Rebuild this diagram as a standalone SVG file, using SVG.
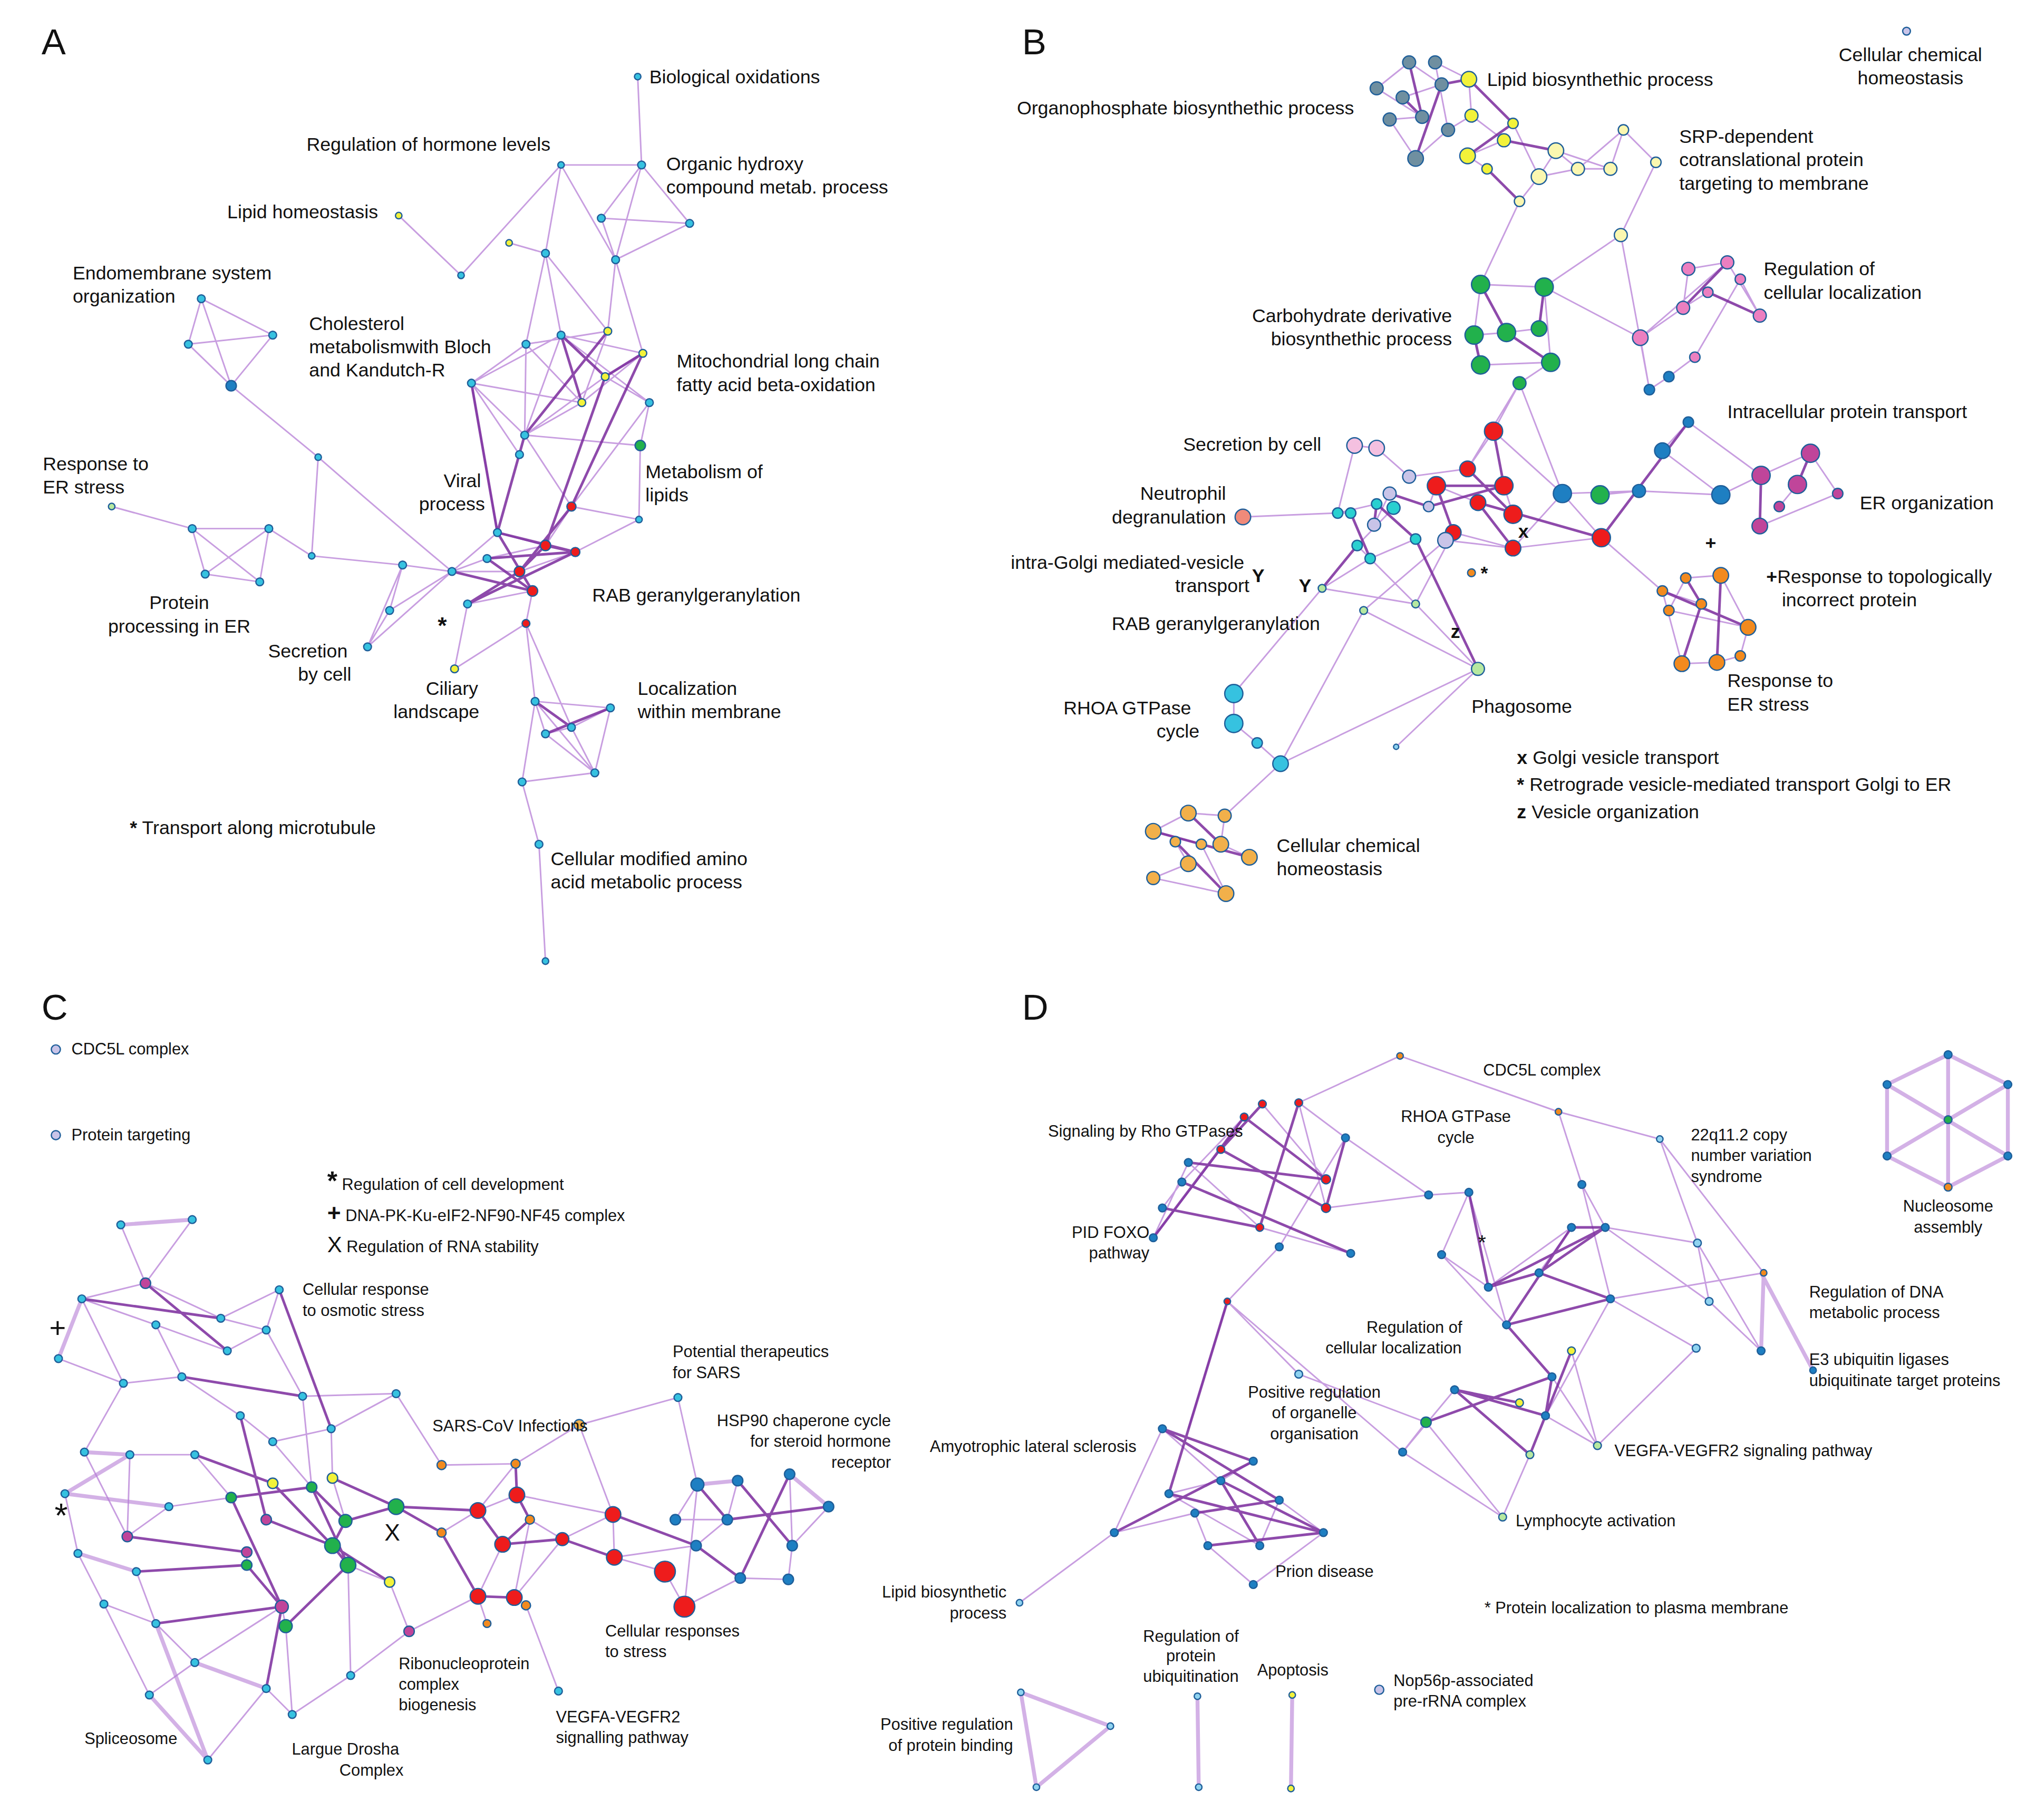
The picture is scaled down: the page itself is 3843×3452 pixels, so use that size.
<svg xmlns="http://www.w3.org/2000/svg" width="3843" height="3452" viewBox="0 0 3843 3452">
<style>
text{font-family:"Liberation Sans",Arial,sans-serif;fill:#111}
.l{font-size:14.5px}.s{font-size:12.5px}.p{font-size:28px}.m{text-anchor:middle}.r{text-anchor:end}.b{font-weight:bold}
.e{stroke:#b57ed6;stroke-width:1.2;fill:none;opacity:.75}
.d{stroke:#7a2a9c;stroke-width:2;fill:none;opacity:.85}
.t{stroke:#c89ee0;stroke-width:3;fill:none;opacity:.8}
circle{stroke:#1f5f9a;stroke-width:1}
.cy{fill:#36c2e0}.ye{fill:#f2f23a}.gr{fill:#22b14c}.rd{fill:#ee1c1c}.bl{fill:#1e7fc2}.gy{fill:#6f8fa0}.py{fill:#fbf7b0}.pk{fill:#ec7fc0}.mg{fill:#c0459a}.lv{fill:#c9c4e8}.tq{fill:#2ad0d0}.or{fill:#f28a1e}.lo{fill:#f2b04a}.sa{fill:#f08a7a}.pg{fill:#b6e8a0}.lb{fill:#8fd3f0}.pp{fill:#f4c0e0}
</style>
<rect width="3843" height="3452" fill="#fff"/>
<g transform="scale(2.4635)">
<g id="connectors">
<path class="e" d="M491 59L494 127M494 127L432 127M432 127L420 195M494 127L463 168M494 127L531 172M463 168L531 172M463 168L474 200M531 172L474 200M494 127L474 200M307 166L355 212M355 212L432 127M392 187L420 195M420 195L405 265M474 200L468 255M155 230L145 265M145 265L178 297M155 230L210 258M210 258L178 297M145 265L210 258M155 230L178 297M178 297L245 352M245 352L240 428M86 390L148 407M148 407L207 407M148 407L158 442M207 407L200 448M158 442L200 448M148 407L200 448M207 407L158 442M207 407L240 428M240 428L310 435M310 435L348 440M300 470L283 498M310 435L300 470M283 498L348 440M348 440L400 440M405 265L363 295M363 295L404 335M404 335L448 310M448 310L468 255M432 258L495 272M495 272L466 290M466 290L500 310M500 310L493 343M493 343L492 400M404 335L440 390M440 390L420 420M383 410L420 420M400 440L443 425M410 455L405 480M405 480L412 540M412 540L470 545M470 545L440 560M440 560L420 565M412 540L458 595M458 595L402 602M402 602L415 650M415 650L420 740M405 480L350 515M375 430L420 420M360 465L410 455M245 352Q300 400 348 440M363 295L432 258M405 265L468 255M405 265L448 310M363 295L448 310M432 258L500 310M420 195L432 258M412 540L402 602M458 595L440 560M300 470L348 440M283 498L310 435M432 127L474 200M463 168L494 127M363 295L400 350M383 410L363 295M404 335L493 343M443 425L492 400M440 390L492 400M348 440L383 410M375 430L348 440M420 565L458 595M412 540L420 565M470 545L458 595M405 480L440 560M360 465L350 515M466 290L404 335M500 310L440 390M495 272L448 310M405 265L404 335M432 258L404 335M474 200L495 272M420 195L468 255"/>
<path class="d" d="M432 258L448 310M468 255L404 335M495 272L440 390M420 420L400 440M383 410L410 455M443 425L375 430M360 465L443 425M363 295L383 410M412 540L440 560M470 545L420 565M404 335L383 410M466 290L420 420M432 258L466 290M348 440L410 455M375 430L410 455M400 440L360 465M420 420L443 425M383 410L443 425M440 390L400 440M466 290L495 272"/>
<path class="e" d="M1085 48L1110 65M1110 65L1080 75M1060 68L1095 90M1070 92L1090 122M1115 100L1105 48M1131 61L1133 89M1133 89L1158 108M1145 130L1130 120M1165 95L1185 136M1185 136L1198 116M1198 116L1215 130M1215 130L1240 130M1240 130L1250 100M1250 100L1275 125M1275 125L1248 181M1170 155L1185 136M1248 181L1189 221M1170 155L1140 219M1140 219L1189 221M1135 258L1160 256M1160 256L1185 253M1140 281L1194 279M1194 279L1170 295M1170 295L1150 332M1150 332L1130 361M1106 374L1138 387M1158 374L1165 396M1119 410L1165 422M1233 414L1203 380M1203 380L1262 378M1262 378L1325 381M1325 381L1356 366M1356 366L1394 349M1394 349L1415 380M1415 380L1355 405M1384 373L1370 390M1300 325L1280 347M1270 300L1285 290M1263 260L1296 237M1296 237L1315 225M1300 207L1330 202M1330 202L1355 243M1340 215L1305 275M1263 260L1270 300M1043 343L1060 345M1060 345L1085 367M1070 380L1058 404M1040 395L1030 395M1030 395L1060 388M1073 391L1045 420M1090 415L1055 430M1018 453L1090 465M1050 470L1138 515M957 398L1030 395M1325 443L1298 445M1280 455L1310 465M1285 470L1346 483M1295 511L1322 510M1322 510L1340 505M1233 414L1280 455M950 534L950 557M950 557L968 572M968 572L986 588M986 588L943 628M888 640L915 626M915 626L943 628M943 628L940 650M940 650L962 660M915 665L888 676M888 676L944 688M944 688L925 650M905 648L915 665M925 650L888 640M1138 515L1075 575M1248 181L1270 300M1165 422L1233 414M1232 381L1262 378M1018 453L950 534M1050 470L986 588M1090 465L1138 515M1113 416L1165 422M1100 390L1106 374M1189 221L1263 260M1170 295L1203 380M1300 325L1356 366M1060 68L1085 48M1070 92L1095 90M1090 122L1115 100M1105 48L1131 61M1115 100L1133 89M1130 120L1158 108M1198 116L1240 130M1185 136L1215 130M1250 100L1215 130M1140 219L1135 258M1189 221L1194 279M1150 332L1203 380M1170 295L1130 361M1165 422L1203 380M1119 410L1090 465M1113 416L1050 470M1045 420L1090 465M1043 343L1030 395M1085 367L1130 361M1300 207L1296 237M1340 215L1355 243M1330 202L1263 260M1280 347L1325 381M1285 290L1305 275M1298 445L1285 470M1280 455L1295 511M1346 483L1340 505M1325 443L1346 483M950 534L1018 453M986 588L1138 515M1055 430L1018 453"/>
<path class="d" d="M1080 75L1095 90M1110 65L1131 61M1131 61L1165 95M1158 108L1198 116M1145 130L1170 155M1140 219L1160 256M1189 221L1185 253M1135 258L1140 281M1160 256L1194 279M1150 332L1158 374M1130 361L1165 396M1119 410L1106 374M1070 380L1100 390M1060 388L1090 415M1045 420L1018 453M1298 445L1310 465M1310 465L1295 511M1325 443L1322 510M1280 455L1346 483M1394 349L1384 373M1356 366L1355 405M1330 202L1296 237M1315 225L1355 243M915 626L940 650M888 640L962 660M944 688L905 648M1233 414L1300 325M1138 387L1233 414M1138 515L1090 415M1040 395L1055 430M1085 48L1095 90M1110 65L1090 122M1130 120L1165 95M1106 374L1158 374M1138 387L1165 422M1060 388L1058 404M1100 390L1158 374"/>
<path class="t" d="M93 943L148 939M45 1046L63 1000M65 1118L100 1120M60 1196L105 1210M115 1305L160 1355M150 1280L205 1300M50 1150L130 1160M608 1135L638 1160M537 1143L568 1140M120 1250L160 1355M50 1150L100 1120"/>
<path class="e" d="M93 943L112 988M148 939L112 988M112 988L63 1000M112 988L170 1015M170 1015L215 993M215 993L205 1024M205 1024L233 1075M120 1020L140 1060M95 1065L140 1060M140 1060L185 1090M185 1090L210 1110M210 1110L255 1100M255 1100L305 1073M305 1073L340 1128M340 1128L397 1127M397 1127L446 1097M446 1097L522 1076M522 1076L537 1143M150 1120L178 1153M98 1183L130 1160M80 1235L120 1250M120 1250L150 1280M205 1300L225 1320M225 1320L270 1290M270 1290L315 1256M315 1256L300 1218M300 1218L268 1205M368 1163L398 1151M387 1189L368 1229M396 1230L433 1185M433 1185L472 1166M472 1166L473 1199M473 1199L512 1210M512 1210L527 1237M527 1237L570 1215M570 1215L607 1216M607 1216L610 1190M610 1190L638 1160M536 1190L560 1170M560 1170L520 1170M405 1236L430 1302M340 1180L368 1163M408 1170L433 1185M375 1250L368 1229M45 1046L95 1065M65 1118L98 1183M60 1196L80 1235M160 1355L205 1300M115 1305L150 1280M233 1075L240 1145M175 1040L205 1024M256 1138L266 1171M220 1252L217 1237M190 1195L190 1205M63 1000L120 1020M100 1120L150 1120M50 1150L60 1196M63 1000L95 1065M120 1020L175 1040M170 1015L205 1024M65 1118L95 1065M210 1110L240 1145M255 1100L256 1138M233 1075L305 1073M100 1120L98 1183M130 1160L178 1153M105 1210L120 1250M80 1235L115 1305M150 1280L217 1237M220 1252L225 1320M270 1290L268 1205M315 1256L368 1229M397 1127L368 1163M446 1097L472 1166M520 1170L537 1143M568 1140L560 1170M608 1135L610 1190M537 1143L527 1237M473 1199L536 1190M398 1151L472 1166M408 1170L396 1230"/>
<path class="d" d="M63 1000L170 1015M112 988L175 1040M140 1060L233 1075M215 993L255 1100M150 1120L210 1142M178 1153L240 1145M240 1145L266 1171M266 1171L305 1160M305 1160L368 1163M256 1190L268 1205M268 1205L220 1252M190 1205L217 1237M205 1170L256 1190M98 1183L190 1195M105 1210L190 1205M120 1250L217 1237M217 1237L205 1300M256 1138L305 1160M340 1180L305 1160M368 1163L387 1189M398 1151L408 1170M408 1170L387 1189M397 1127L398 1151M368 1229L396 1230M433 1185L473 1199M472 1166L536 1190M537 1143L560 1170M568 1140L610 1190M608 1135L570 1215M536 1190L570 1215M340 1180L368 1229M185 1090L205 1170M256 1190L300 1218M210 1142L256 1190M178 1153L217 1237M240 1145L268 1205M266 1171L256 1190M387 1189L433 1185M560 1170L638 1160"/>
<path class="t" d="M1453 835L1546 890M1453 890L1546 835M1500 812L1500 914M1453 835L1453 890M1546 835L1546 890M1500 812L1453 835M1500 812L1546 835M1453 890L1500 914M1546 890L1500 914M786 1303L855 1329M855 1329L798 1376M786 1303L798 1376M922 1306L923 1376M995 1305L994 1377M1356 980L1396 1055M1358 980L1356 1040"/>
<path class="e" d="M1078 813L1200 856M1200 856L1278 877M1078 813L1000 849M1278 877L1307 957M1278 877L1358 980M1200 856L1218 912M1036 876L1100 920M1100 920L1131 918M1131 918L1110 966M1110 966L1146 991M1218 912L1236 945M1236 945L1307 957M1307 957L1316 1002M1316 1002L1356 1040M1240 1000L1306 1038M1230 1113L1210 1040M1157 1168L1080 1118M1080 1118L1098 1095M1000 1058L945 1002M945 1002L915 1100M895 1100L858 1180M858 1180L785 1234M900 1150L940 1140M920 1165L930 1190M970 1190L985 1155M1019 1180L965 1220M940 1140L965 1125M958 860L940 885M972 850L1021 908M1000 849L1021 930M970 945L1040 965M915 895L888 953M910 910L895 930M985 960L945 1002M1021 930L1100 920M1098 1095L1000 1058M1131 918L1160 1020M1185 980L1210 945M1190 1090L1230 1113M1178 1120L1157 1168M945 1002L1080 1118M1036 876L985 960M1306 1038L1230 1113M1240 1000L1358 980M1218 912L1240 1000M1236 945L1316 1002M1307 957L1356 1040M1110 966L1160 1020M1146 991L1210 945M1240 1000L1190 1090M1195 1060L1230 1113M1098 1095L1157 1168M1080 1118L1120 1070M910 910L958 860M1000 849L1036 876M915 895L970 945M888 953L940 885M895 1100L940 1140M858 1180L920 1165M930 1190L965 1220M985 1155L1019 1180M900 1150L970 1190"/>
<path class="d" d="M958 860L1021 908M972 850L940 885M1000 849L970 945M940 885L1021 930M915 895L1021 908M910 910L1040 965M895 930L970 945M888 953L958 860M1036 876L1021 930M945 1002L900 1150M895 1100L965 1125M900 1150L1019 1180M920 1165L985 1155M940 1140L970 1190M858 1180L965 1125M930 1190L1019 1180M1146 991L1185 980M1160 1020L1210 945M1185 980L1240 1000M1210 945L1236 945M1146 991L1236 945M1195 1060L1190 1090M1170 1080L1120 1070M1120 1070L1178 1120M1098 1095L1195 1060M1210 1040L1178 1120M1160 1020L1195 1060M1185 980L1236 945M1160 1020L1240 1000M1131 918L1146 991M1120 1070L1190 1090M895 1100L985 1155M940 1140L1019 1180"/>
</g>
<g id="nodesA">
<circle class="cy" cx="491" cy="59" r="2.5"/><circle class="cy" cx="494" cy="127" r="3"/><circle class="cy" cx="432" cy="127" r="2.5"/><circle class="ye" cx="307" cy="166" r="2.5"/><circle class="cy" cx="463" cy="168" r="3"/><circle class="cy" cx="420" cy="195" r="3"/><circle class="ye" cx="392" cy="187" r="2.5"/><circle class="cy" cx="355" cy="212" r="2.5"/><circle class="cy" cx="531" cy="172" r="3"/><circle class="cy" cx="474" cy="200" r="3"/><circle class="cy" cx="155" cy="230" r="3"/><circle class="cy" cx="145" cy="265" r="3"/><circle class="bl" cx="178" cy="297" r="4"/><circle class="cy" cx="210" cy="258" r="3"/><circle class="cy" cx="245" cy="352" r="2.5"/><circle class="cy" cx="240" cy="428" r="2.5"/><circle class="cy" cx="148" cy="407" r="3"/><circle class="cy" cx="207" cy="407" r="3"/><circle class="cy" cx="158" cy="442" r="3"/><circle class="cy" cx="200" cy="448" r="3"/><circle class="pg" cx="86" cy="390" r="2.5"/><circle class="gr" cx="493" cy="343" r="4"/><circle class="cy" cx="492" cy="400" r="2.5"/><circle class="cy" cx="405" cy="265" r="3"/><circle class="cy" cx="363" cy="295" r="3"/><circle class="cy" cx="404" cy="335" r="3"/><circle class="ye" cx="448" cy="310" r="3"/><circle class="ye" cx="468" cy="255" r="3"/><circle class="cy" cx="432" cy="258" r="3"/><circle class="ye" cx="495" cy="272" r="3"/><circle class="ye" cx="466" cy="290" r="3"/><circle class="cy" cx="500" cy="310" r="3"/><circle class="rd" cx="440" cy="390" r="3.5"/><circle class="rd" cx="420" cy="420" r="4"/><circle class="rd" cx="400" cy="440" r="4"/><circle class="cy" cx="383" cy="410" r="3"/><circle class="rd" cx="443" cy="425" r="3.5"/><circle class="rd" cx="410" cy="455" r="4"/><circle class="cy" cx="348" cy="440" r="3"/><circle class="cy" cx="310" cy="435" r="3"/><circle class="cy" cx="300" cy="470" r="3"/><circle class="cy" cx="283" cy="498" r="3"/><circle class="ye" cx="350" cy="515" r="3"/><circle class="rd" cx="405" cy="480" r="3"/><circle class="cy" cx="412" cy="540" r="3"/><circle class="cy" cx="470" cy="545" r="3"/><circle class="cy" cx="440" cy="560" r="3"/><circle class="cy" cx="420" cy="565" r="3"/><circle class="cy" cx="458" cy="595" r="3"/><circle class="cy" cx="402" cy="602" r="3"/><circle class="cy" cx="415" cy="650" r="3"/><circle class="cy" cx="420" cy="740" r="2.5"/><circle class="cy" cx="375" cy="430" r="3"/><circle class="cy" cx="360" cy="465" r="3"/><circle class="cy" cx="400" cy="350" r="3"/>
</g>
<g id="nodesB">
<circle class="gy" cx="1085" cy="48" r="5"/><circle class="gy" cx="1110" cy="65" r="5"/><circle class="gy" cx="1080" cy="75" r="5"/><circle class="gy" cx="1060" cy="68" r="5"/><circle class="gy" cx="1095" cy="90" r="5"/><circle class="gy" cx="1070" cy="92" r="5"/><circle class="gy" cx="1090" cy="122" r="6"/><circle class="gy" cx="1115" cy="100" r="5"/><circle class="gy" cx="1105" cy="48" r="5"/>
<circle class="ye" cx="1131" cy="61" r="6"/><circle class="ye" cx="1133" cy="89" r="5"/><circle class="ye" cx="1130" cy="120" r="6"/><circle class="ye" cx="1158" cy="108" r="5"/><circle class="ye" cx="1145" cy="130" r="4"/><circle class="ye" cx="1165" cy="95" r="4"/>
<circle class="py" cx="1185" cy="136" r="6"/><circle class="py" cx="1198" cy="116" r="6"/><circle class="py" cx="1215" cy="130" r="5"/><circle class="py" cx="1240" cy="130" r="5"/><circle class="py" cx="1250" cy="100" r="4"/><circle class="py" cx="1275" cy="125" r="4"/><circle class="py" cx="1248" cy="181" r="5"/><circle class="py" cx="1170" cy="155" r="4"/><circle class="lv" cx="1468" cy="24" r="3"/>
<circle class="gr" cx="1140" cy="219" r="7"/><circle class="gr" cx="1189" cy="221" r="7"/><circle class="gr" cx="1135" cy="258" r="7"/><circle class="gr" cx="1160" cy="256" r="7"/><circle class="gr" cx="1185" cy="253" r="6"/><circle class="gr" cx="1140" cy="281" r="7"/><circle class="gr" cx="1194" cy="279" r="7"/><circle class="gr" cx="1170" cy="295" r="5"/><circle class="gr" cx="1232" cy="381" r="7"/>
<circle class="pk" cx="1300" cy="207" r="5"/><circle class="pk" cx="1330" cy="202" r="5"/><circle class="pk" cx="1355" cy="243" r="5"/><circle class="pk" cx="1263" cy="260" r="6"/><circle class="pk" cx="1296" cy="237" r="5"/><circle class="pk" cx="1315" cy="225" r="4"/><circle class="pk" cx="1340" cy="215" r="4"/><circle class="pk" cx="1305" cy="275" r="4"/>
<circle class="mg" cx="1394" cy="349" r="7"/><circle class="mg" cx="1356" cy="366" r="7"/><circle class="mg" cx="1384" cy="373" r="7"/><circle class="mg" cx="1355" cy="405" r="6"/><circle class="mg" cx="1415" cy="380" r="4"/><circle class="mg" cx="1370" cy="390" r="4"/>
<circle class="bl" cx="1280" cy="347" r="6"/><circle class="bl" cx="1203" cy="380" r="7"/><circle class="bl" cx="1262" cy="378" r="5"/><circle class="bl" cx="1325" cy="381" r="7"/><circle class="bl" cx="1300" cy="325" r="4"/><circle class="bl" cx="1270" cy="300" r="4"/><circle class="bl" cx="1285" cy="290" r="4"/>
<circle class="rd" cx="1150" cy="332" r="7"/><circle class="rd" cx="1130" cy="361" r="6"/><circle class="rd" cx="1106" cy="374" r="7"/><circle class="rd" cx="1138" cy="387" r="6"/><circle class="rd" cx="1158" cy="374" r="7"/><circle class="rd" cx="1119" cy="410" r="6"/><circle class="rd" cx="1165" cy="396" r="7"/><circle class="rd" cx="1165" cy="422" r="6"/><circle class="rd" cx="1233" cy="414" r="7"/>
<circle class="pp" cx="1043" cy="343" r="6"/><circle class="pp" cx="1060" cy="345" r="6"/><circle class="lv" cx="1085" cy="367" r="5"/><circle class="lv" cx="1070" cy="380" r="5"/><circle class="lv" cx="1058" cy="404" r="5"/><circle class="lv" cx="1113" cy="416" r="6"/><circle class="lv" cx="1100" cy="390" r="4"/><circle class="sa" cx="957" cy="398" r="6"/>
<circle class="tq" cx="1030" cy="395" r="4"/><circle class="tq" cx="1060" cy="388" r="4"/><circle class="tq" cx="1073" cy="391" r="5"/><circle class="tq" cx="1045" cy="420" r="4"/><circle class="tq" cx="1090" cy="415" r="4"/><circle class="tq" cx="1055" cy="430" r="4"/><circle class="tq" cx="1040" cy="395" r="4"/>
<circle class="or" cx="1325" cy="443" r="6"/><circle class="or" cx="1298" cy="445" r="4"/><circle class="or" cx="1280" cy="455" r="4"/><circle class="or" cx="1310" cy="465" r="4"/><circle class="or" cx="1285" cy="470" r="4"/><circle class="or" cx="1346" cy="483" r="6"/><circle class="or" cx="1295" cy="511" r="6"/><circle class="or" cx="1322" cy="510" r="6"/><circle class="or" cx="1340" cy="505" r="4"/><circle class="or" cx="1133" cy="441" r="3"/>
<circle class="pg" cx="1018" cy="453" r="3"/><circle class="pg" cx="1090" cy="465" r="3"/><circle class="pg" cx="1138" cy="515" r="5"/><circle class="pg" cx="1050" cy="470" r="3"/><circle class="lb" cx="1075" cy="575" r="2"/>
<circle class="cy" cx="950" cy="534" r="7"/><circle class="cy" cx="950" cy="557" r="7"/><circle class="cy" cx="986" cy="588" r="6"/><circle class="cy" cx="968" cy="572" r="4"/>
<circle class="lo" cx="888" cy="640" r="6"/><circle class="lo" cx="915" cy="626" r="6"/><circle class="lo" cx="943" cy="628" r="5"/><circle class="lo" cx="940" cy="650" r="6"/><circle class="lo" cx="962" cy="660" r="6"/><circle class="lo" cx="915" cy="665" r="6"/><circle class="lo" cx="888" cy="676" r="5"/><circle class="lo" cx="944" cy="688" r="6"/><circle class="lo" cx="925" cy="650" r="4"/><circle class="lo" cx="905" cy="648" r="4"/>
</g>
<g id="nodesC">
<circle class="lv" cx="43" cy="808" r="3.5"/><circle class="lv" cx="43" cy="874" r="3.5"/>
<circle class="cy" cx="93" cy="943" r="3"/><circle class="cy" cx="148" cy="939" r="3"/><circle class="cy" cx="63" cy="1000" r="3"/><circle class="cy" cx="45" cy="1046" r="3"/><circle class="cy" cx="95" cy="1065" r="3"/><circle class="cy" cx="65" cy="1118" r="3"/><circle class="cy" cx="100" cy="1120" r="3"/><circle class="cy" cx="170" cy="1015" r="3"/><circle class="cy" cx="175" cy="1040" r="3"/><circle class="cy" cx="215" cy="993" r="3"/><circle class="cy" cx="205" cy="1024" r="3"/><circle class="cy" cx="120" cy="1020" r="3"/><circle class="cy" cx="140" cy="1060" r="3"/><circle class="cy" cx="233" cy="1075" r="3"/><circle class="cy" cx="255" cy="1100" r="3"/><circle class="cy" cx="305" cy="1073" r="3"/><circle class="cy" cx="185" cy="1090" r="3"/><circle class="cy" cx="210" cy="1110" r="3"/><circle class="cy" cx="150" cy="1120" r="3"/><circle class="cy" cx="60" cy="1196" r="3"/><circle class="cy" cx="105" cy="1210" r="3"/><circle class="cy" cx="80" cy="1235" r="3"/><circle class="cy" cx="120" cy="1250" r="3"/><circle class="cy" cx="115" cy="1305" r="3"/><circle class="cy" cx="160" cy="1355" r="3"/><circle class="cy" cx="205" cy="1300" r="3"/><circle class="cy" cx="225" cy="1320" r="3"/><circle class="cy" cx="270" cy="1290" r="3"/><circle class="cy" cx="150" cy="1280" r="3"/><circle class="cy" cx="50" cy="1150" r="3"/><circle class="cy" cx="130" cy="1160" r="3"/><circle class="cy" cx="430" cy="1302" r="3"/><circle class="cy" cx="522" cy="1076" r="3"/>
<circle class="gr" cx="266" cy="1171" r="5"/><circle class="gr" cx="305" cy="1160" r="6"/><circle class="gr" cx="256" cy="1190" r="6"/><circle class="gr" cx="268" cy="1205" r="6"/><circle class="gr" cx="240" cy="1145" r="4"/><circle class="gr" cx="178" cy="1153" r="4"/><circle class="gr" cx="220" cy="1252" r="5"/><circle class="gr" cx="190" cy="1205" r="4"/>
<circle class="ye" cx="210" cy="1142" r="4"/><circle class="ye" cx="256" cy="1138" r="4"/><circle class="ye" cx="300" cy="1218" r="4"/>
<circle class="mg" cx="112" cy="988" r="4"/><circle class="mg" cx="217" cy="1237" r="5"/><circle class="mg" cx="190" cy="1195" r="4"/><circle class="mg" cx="315" cy="1256" r="4"/><circle class="mg" cx="205" cy="1170" r="4"/><circle class="mg" cx="98" cy="1183" r="4"/>
<circle class="or" cx="340" cy="1128" r="3.5"/><circle class="or" cx="397" cy="1127" r="3.5"/><circle class="lo" cx="446" cy="1097" r="4"/><circle class="or" cx="340" cy="1180" r="3.5"/><circle class="or" cx="405" cy="1236" r="3.5"/><circle class="or" cx="408" cy="1170" r="3.5"/><circle class="or" cx="375" cy="1250" r="3"/>
<circle class="rd" cx="368" cy="1163" r="6"/><circle class="rd" cx="398" cy="1151" r="6"/><circle class="rd" cx="387" cy="1189" r="6"/><circle class="rd" cx="368" cy="1229" r="6"/><circle class="rd" cx="396" cy="1230" r="6"/><circle class="rd" cx="433" cy="1185" r="5"/><circle class="rd" cx="472" cy="1166" r="6"/><circle class="rd" cx="473" cy="1199" r="6"/><circle class="rd" cx="512" cy="1210" r="8"/><circle class="rd" cx="527" cy="1237" r="8"/>
<circle class="bl" cx="537" cy="1143" r="5"/><circle class="bl" cx="568" cy="1140" r="4"/><circle class="bl" cx="608" cy="1135" r="4"/><circle class="bl" cx="638" cy="1160" r="4"/><circle class="bl" cx="610" cy="1190" r="4"/><circle class="bl" cx="607" cy="1216" r="4"/><circle class="bl" cx="570" cy="1215" r="4"/><circle class="bl" cx="536" cy="1190" r="4"/><circle class="bl" cx="560" cy="1170" r="4"/><circle class="bl" cx="520" cy="1170" r="4"/>
</g>
<g id="nodesD">
<circle class="rd" cx="958" cy="860" r="3"/><circle class="rd" cx="972" cy="850" r="3"/><circle class="rd" cx="1000" cy="849" r="3"/><circle class="rd" cx="1021" cy="908" r="3.5"/><circle class="rd" cx="1021" cy="930" r="3.5"/><circle class="rd" cx="970" cy="945" r="3"/><circle class="rd" cx="940" cy="885" r="3"/><circle class="rd" cx="945" cy="1002" r="2.5"/>
<circle class="or" cx="1078" cy="813" r="2.5"/><circle class="or" cx="1200" cy="856" r="2.5"/><circle class="lb" cx="1278" cy="877" r="2.5"/><circle class="bl" cx="1036" cy="876" r="3"/><circle class="bl" cx="915" cy="895" r="3"/><circle class="bl" cx="888" cy="953" r="3"/><circle class="bl" cx="910" cy="910" r="3"/><circle class="bl" cx="895" cy="930" r="3"/><circle class="bl" cx="1040" cy="965" r="3"/><circle class="bl" cx="985" cy="960" r="3"/><circle class="bl" cx="1100" cy="920" r="3"/><circle class="bl" cx="1131" cy="918" r="3"/><circle class="bl" cx="1218" cy="912" r="3"/><circle class="bl" cx="1110" cy="966" r="3"/><circle class="bl" cx="1146" cy="991" r="3"/><circle class="bl" cx="1160" cy="1020" r="3"/><circle class="bl" cx="1185" cy="980" r="3"/><circle class="bl" cx="1210" cy="945" r="3"/><circle class="bl" cx="1240" cy="1000" r="3"/><circle class="bl" cx="1236" cy="945" r="3"/><circle class="lb" cx="1307" cy="957" r="3"/><circle class="or" cx="1358" cy="980" r="2.5"/><circle class="lb" cx="1316" cy="1002" r="3"/><circle class="lb" cx="1306" cy="1038" r="3"/><circle class="pg" cx="1230" cy="1113" r="3"/><circle class="pg" cx="1157" cy="1168" r="3"/><circle class="bl" cx="1080" cy="1118" r="3"/><circle class="lb" cx="1000" cy="1058" r="3"/><circle class="bl" cx="895" cy="1100" r="3"/><circle class="bl" cx="858" cy="1180" r="3"/><circle class="bl" cx="900" cy="1150" r="3"/><circle class="bl" cx="920" cy="1165" r="3"/><circle class="bl" cx="930" cy="1190" r="3"/><circle class="bl" cx="970" cy="1190" r="3"/><circle class="bl" cx="985" cy="1155" r="3"/><circle class="bl" cx="1019" cy="1180" r="3"/><circle class="bl" cx="965" cy="1220" r="3"/><circle class="bl" cx="940" cy="1140" r="3"/><circle class="bl" cx="965" cy="1125" r="3"/><circle class="lb" cx="785" cy="1234" r="2.5"/><circle class="bl" cx="1356" cy="1040" r="3"/><circle class="bl" cx="1396" cy="1055" r="2.5"/><circle class="gr" cx="1098" cy="1095" r="4"/><circle class="bl" cx="1120" cy="1070" r="3"/><circle class="pg" cx="1178" cy="1120" r="3"/><circle class="bl" cx="1195" cy="1060" r="3"/><circle class="bl" cx="1190" cy="1090" r="3"/><circle class="ye" cx="1170" cy="1080" r="3"/><circle class="ye" cx="1210" cy="1040" r="3"/>
<circle class="bl" cx="1500" cy="812" r="3"/><circle class="bl" cx="1453" cy="835" r="3"/><circle class="bl" cx="1453" cy="890" r="3"/><circle class="or" cx="1500" cy="914" r="3"/><circle class="bl" cx="1546" cy="890" r="3"/><circle class="bl" cx="1546" cy="835" r="3"/><circle class="gr" cx="1500" cy="862" r="3"/>
<circle class="lb" cx="786" cy="1303" r="2.5"/><circle class="lb" cx="855" cy="1329" r="2.5"/><circle class="lb" cx="798" cy="1376" r="2.5"/><circle class="lb" cx="922" cy="1306" r="2.5"/><circle class="lb" cx="923" cy="1376" r="2.5"/><circle class="ye" cx="995" cy="1305" r="2.5"/><circle class="ye" cx="994" cy="1377" r="2.5"/><circle class="lv" cx="1062" cy="1301" r="3.5"/>
</g>
<g id="labels">
<text class="p" x="32" y="42">A</text><text class="p" x="787" y="42">B</text><text class="p" x="32" y="785">C</text><text class="p" x="787" y="785">D</text>
<text class="l" x="500" y="64">Biological oxidations</text>
<text class="l" x="236" y="116">Regulation of hormone levels</text>
<text class="l" x="513" y="131">Organic hydroxy</text><text class="l" x="513" y="149">compound metab. process</text>
<text class="l" x="175" y="168">Lipid homeostasis</text>
<text class="l" x="56" y="215">Endomembrane system</text><text class="l" x="56" y="233">organization</text>
<text class="l" x="238" y="254">Cholesterol</text><text class="l" x="238" y="272">metabolismwith Bloch</text><text class="l" x="238" y="290">and Kandutch-R</text>
<text class="l" x="521" y="283">Mitochondrial long chain</text><text class="l" x="521" y="301">fatty acid beta-oxidation</text>
<text class="l" x="33" y="362">Response to</text><text class="l" x="33" y="380">ER stress</text>
<text class="l" x="497" y="368">Metabolism of</text><text class="l" x="497" y="386">lipids</text>
<text class="l m" x="356" y="375">Viral</text><text class="l m" x="348" y="393">process</text>
<text class="l" x="456" y="463">RAB geranylgeranylation</text>
<text class="l m" x="138" y="469">Protein</text><text class="l m" x="138" y="487">processing in ER</text>
<text class="l m" x="237" y="506">Secretion</text><text class="l m" x="250" y="524">by cell</text>
<text class="l m" x="348" y="535">Ciliary</text><text class="l m" x="336" y="553">landscape</text>
<text class="l" x="491" y="535">Localization</text><text class="l" x="491" y="553">within membrane</text>
<text class="l" x="100" y="642"><tspan font-weight="bold">*</tspan> Transport along microtubule</text>
<text class="b" x="337" y="488" font-size="18">*</text>
<text class="l" x="424" y="666">Cellular modified amino</text><text class="l" x="424" y="684">acid metabolic process</text>
<text class="l" x="1145" y="66">Lipid biosynthethic process</text>
<text class="l m" x="1471" y="47">Cellular chemical</text><text class="l m" x="1471" y="65">homeostasis</text>
<text class="l" x="783" y="88">Organophosphate biosynthethic process</text>
<text class="l" x="1293" y="110">SRP-dependent</text><text class="l" x="1293" y="128">cotranslational protein</text><text class="l" x="1293" y="146">targeting to membrane</text>
<text class="l" x="1358" y="212">Regulation of</text><text class="l" x="1358" y="230">cellular localization</text>
<text class="l r" x="1118" y="248">Carbohydrate derivative</text><text class="l r" x="1118" y="266">biosynthethic process</text>
<text class="l" x="1330" y="322">Intracellular protein transport</text>
<text class="l" x="911" y="347">Secretion by cell</text>
<text class="l r" x="944" y="385">Neutrophil</text><text class="l r" x="944" y="403">degranulation</text>
<text class="l" x="1432" y="392">ER organization</text>
<text class="l r" x="958" y="438">intra-Golgi mediated-vesicle</text><text class="l r" x="962" y="456">transport</text>
<text class="l b" x="964" y="448">Y</text><text class="l b" x="1000" y="456">Y</text><text class="l b" x="1169" y="414">x</text><text class="l b" x="1140" y="446">*</text><text class="l b" x="1313" y="423">+</text><text class="l b" x="1117" y="491">z</text>
<text class="l" x="1360" y="449"><tspan font-weight="bold">+</tspan>Response to topologically</text><text class="l" x="1372" y="467">incorrect protein</text>
<text class="l" x="856" y="485">RAB geranylgeranylation</text>
<text class="l" x="1330" y="529">Response to</text><text class="l" x="1330" y="547">ER stress</text>
<text class="l m" x="868" y="550">RHOA GTPase</text><text class="l m" x="907" y="568">cycle</text>
<text class="l" x="1133" y="549">Phagosome</text>
<text class="l" x="1168" y="588"><tspan font-weight="bold">x</tspan> Golgi vesicle transport</text>
<text class="l" x="1168" y="609"><tspan font-weight="bold">*</tspan> Retrograde vesicle-mediated transport Golgi to ER</text>
<text class="l" x="1168" y="630"><tspan font-weight="bold">z</tspan> Vesicle organization</text>
<text class="l" x="983" y="656">Cellular chemical</text><text class="l" x="983" y="674">homeostasis</text>
<text class="s" x="55" y="812">CDC5L complex</text><text class="s" x="55" y="878">Protein targeting</text>
<text class="s" x="252" y="916"><tspan font-size="20" font-weight="bold">*</tspan> Regulation of cell development</text>
<text class="s" x="252" y="940"><tspan font-size="18" font-weight="bold">+</tspan> DNA-PK-Ku-eIF2-NF90-NF45 complex</text>
<text class="s" x="252" y="964"><tspan font-size="17">X</tspan> Regulation of RNA stability</text>
<text class="s" x="233" y="997">Cellular response</text><text class="s" x="233" y="1013">to osmotic stress</text>
<text x="38" y="1030" font-size="22">+</text><text x="42" y="1176" font-size="26">*</text><text x="296" y="1186" font-size="18">X</text>
<text class="s" x="518" y="1045">Potential therapeutics</text><text class="s" x="518" y="1061">for SARS</text>
<text class="s" x="333" y="1102">SARS-CoV Infections</text>
<text class="s r" x="686" y="1098">HSP90 chaperone cycle</text><text class="s r" x="686" y="1114">for steroid hormone</text><text class="s r" x="686" y="1130">receptor</text>
<text class="s" x="466" y="1260">Cellular responses</text><text class="s" x="466" y="1276">to stress</text>
<text class="s" x="307" y="1285">Ribonucleoprotein</text><text class="s" x="307" y="1301">complex</text><text class="s" x="307" y="1317">biogenesis</text>
<text class="s" x="65" y="1343">Spliceosome</text>
<text class="s" x="428" y="1326">VEGFA-VEGFR2</text><text class="s" x="428" y="1342">signalling pathway</text>
<text class="s m" x="266" y="1351">Largue Drosha</text><text class="s m" x="286" y="1367">Complex</text>
<text class="s" x="1142" y="828">CDC5L complex</text>
<text class="s" x="807" y="875">Signaling by Rho GTPases</text>
<text class="s m" x="1121" y="864">RHOA GTPase</text><text class="s m" x="1121" y="880">cycle</text>
<text class="s" x="1302" y="878">22q11.2 copy</text><text class="s" x="1302" y="894">number variation</text><text class="s" x="1302" y="910">syndrome</text>
<text class="s m" x="1500" y="933">Nucleosome</text><text class="s m" x="1500" y="949">assembly</text>
<text class="s r" x="885" y="953">PID FOXO</text><text class="s r" x="885" y="969">pathway</text>
<text x="1138" y="962" font-size="16">*</text>
<text class="s" x="1393" y="999">Regulation of DNA</text><text class="s" x="1393" y="1015">metabolic process</text>
<text class="s m" x="1089" y="1026">Regulation of</text><text class="s m" x="1073" y="1042">cellular localization</text>
<text class="s" x="1393" y="1051">E3 ubiquitin ligases</text><text class="s" x="1393" y="1067">ubiquitinate target proteins</text>
<text class="s m" x="1012" y="1076">Positive regulation</text><text class="s m" x="1012" y="1092">of organelle</text><text class="s m" x="1012" y="1108">organisation</text>
<text class="s" x="716" y="1118">Amyotrophic lateral sclerosis</text>
<text class="s" x="1243" y="1121">VEGFA-VEGFR2 signaling pathway</text>
<text class="s" x="1167" y="1175">Lymphocyte activation</text>
<text class="s" x="982" y="1214">Prion disease</text>
<text class="s r" x="775" y="1230">Lipid biosynthetic</text><text class="s r" x="775" y="1246">process</text>
<text class="s" x="1143" y="1242">* Protein localization to plasma membrane</text>
<text class="s m" x="917" y="1264">Regulation of</text><text class="s m" x="917" y="1279">protein</text><text class="s m" x="917" y="1295">ubiquitination</text>
<text class="s" x="968" y="1290">Apoptosis</text>
<text class="s" x="1073" y="1298">Nop56p-associated</text><text class="s" x="1073" y="1314">pre-rRNA complex</text>
<text class="s r" x="780" y="1332">Positive regulation</text><text class="s r" x="780" y="1348">of protein binding</text>
</g>
</g>
</svg>
